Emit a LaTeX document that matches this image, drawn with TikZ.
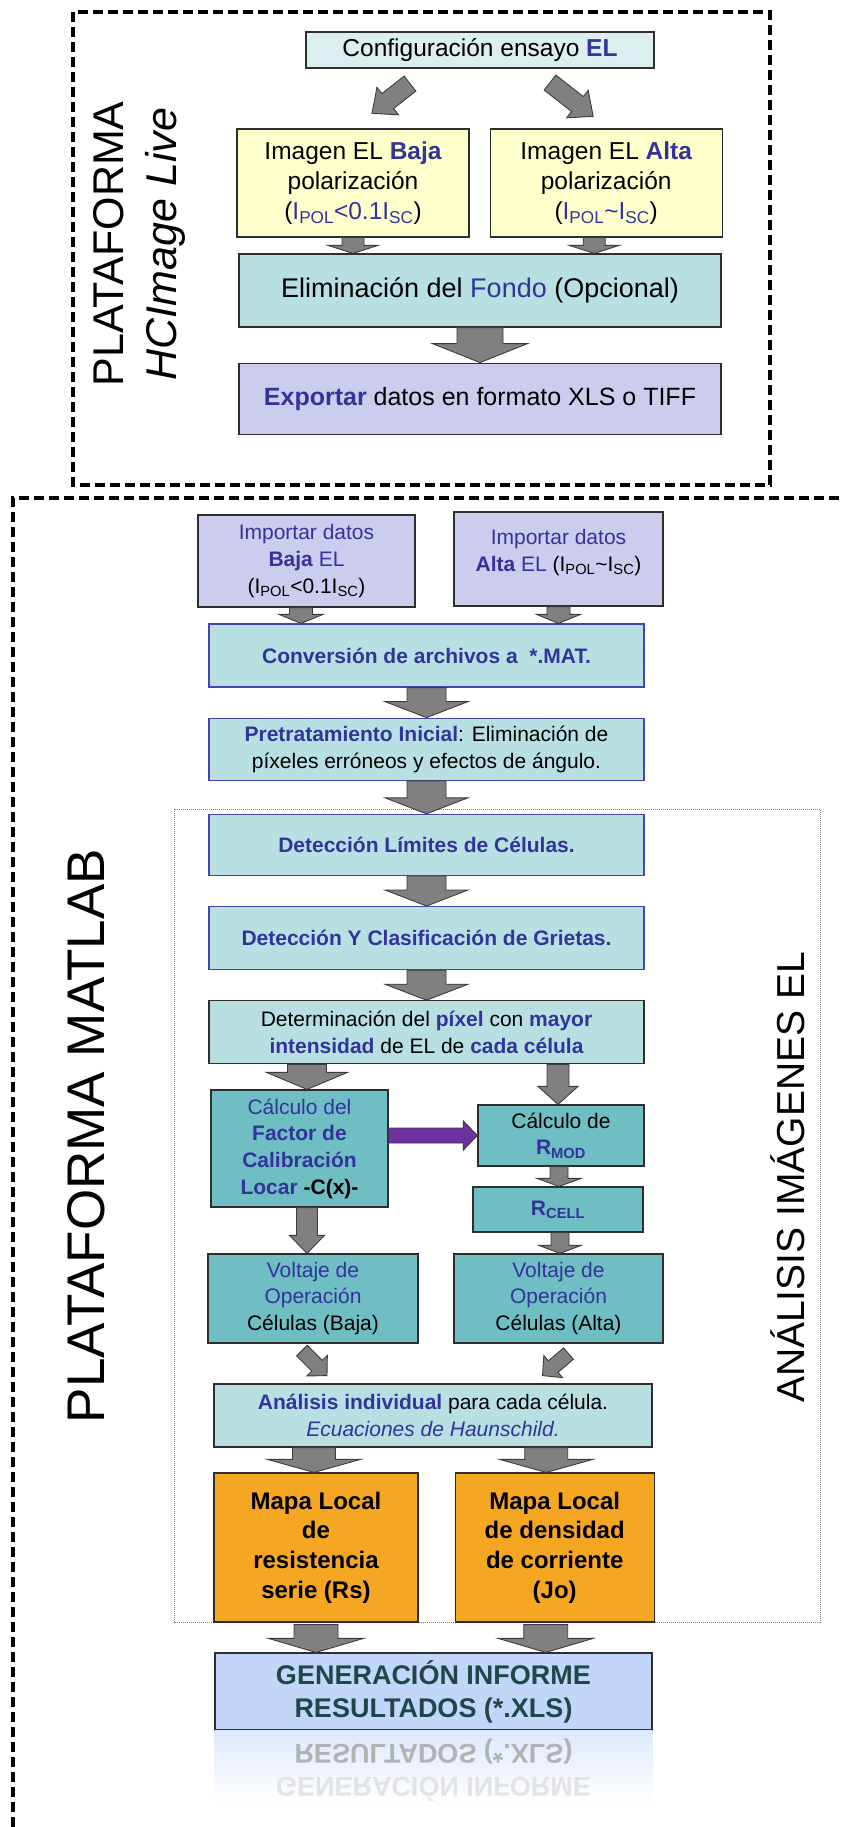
\documentclass[tikz,border=0pt]{standalone}
\usepackage{fontspec}
\setmainfont{Liberation Sans}
\usepackage{xcolor}
\usepackage{tikz}
\usetikzlibrary{
  positioning,
  calc
}
\definecolor{cfgfill}{HTML}{DCEFF0}
\definecolor{imgfill}{HTML}{FFFFCC}
\definecolor{lightteal}{HTML}{B8E0E2}
\definecolor{lavfill}{HTML}{CCCCEE}
\definecolor{darkteal}{HTML}{6EBEC4}
\definecolor{mapafill}{HTML}{F5A623}
\definecolor{infofill}{HTML}{C2D6FA}
\definecolor{txtblue}{HTML}{333399}
\definecolor{infotxt}{HTML}{1F4747}
\definecolor{boxedge}{HTML}{2E2E2E}
\definecolor{blueedge}{HTML}{4545B0}
\definecolor{arrowgray}{HTML}{808080}
\definecolor{arrowedge}{HTML}{3C3C3C}
\definecolor{purplefill}{HTML}{7030A0}
\newcommand{\bl}[1]{\textcolor{txtblue}{#1}}
\newcommand{\blb}[1]{\textcolor{txtblue}{\bfseries #1}}
\newcommand{\fsz}[2]{\fontsize{#1}{#2}\selectfont}
% block arrow: [fill]{from}{to}{shaft width}{head width}{head length}
\newcommand{\blockarrow}[6][arrowgray]{%
  \path (#2) coordinate (bastart) (#3) coordinate (baend);
  \pgfpointdiff{\pgfpointanchor{bastart}{center}}{\pgfpointanchor{baend}{center}}%
  \pgfgetlastxy{\badx}{\bady}%
  \pgfmathsetmacro{\baang}{atan2(\bady,\badx)}%
  \pgfmathsetmacro{\balen}{veclen(\badx,\bady)}%
  \draw[blockarrow, fill=#1, shift={(bastart)}, rotate=\baang]
    (0pt,{#4/2}) -- ({\balen pt-#6},{#4/2}) -- ({\balen pt-#6},{#5/2})
    -- (\balen pt,0pt) -- ({\balen pt-#6},{-#5/2}) -- ({\balen pt-#6},{-#4/2})
    -- (0pt,{-#4/2}) -- cycle;
}

\begin{document}
\begin{tikzpicture}[
  x=1pt, y=-1pt,
  box/.style={draw=boxedge, line width=1.2pt, align=center, inner sep=0pt},
  big/.style={box, font=\fsz{24.5}{30}},
  small/.style={box, font=\fsz{21}{26.7}},
  flow/.style={small, fill=lightteal, draw=blueedge, minimum width=435pt},
  calc box/.style={small, fill=darkteal},
  mapa/.style={box, fill=mapafill, font=\fsz{24}{29.7}\bfseries},
  report/.style={box, fill=infofill, text=infotxt, font=\fsz{27}{33}\bfseries},
  blockarrow/.style={draw=arrowedge, line width=0.9pt, line join=miter},
  platbox/.style={draw=black, line width=3.2pt, dash pattern=on 10pt off 5pt},
  dotbox/.style={draw=gray, line width=1pt, dash pattern=on 1pt off 1pt},
]
\useasboundingbox (0,0) rectangle (841,1827);

% platform frames
\draw[platbox] (73,12) rectangle (770,485);
\draw[platbox] (13,1827) |- (841,498);
\draw[dotbox] (174,809) rectangle (820,1622);

\node[rotate=90, align=center, font=\fsz{43}{53}] (platHC) at (139.5,244)
  {PLATAFORMA\\\itshape HCImage Live};
\node[rotate=90, font=\fsz{53}{60}] (platML) at (86,1136) {PLATAFORMA MATLAB};
\node[rotate=90, font=\fsz{39}{45}] (analisis) at (788,1177.5) {ANÁLISIS IMÁGENES EL};

% HCImage Live
\node[big, fill=cfgfill, font=\fsz{24.5}{30}, minimum width=348pt, minimum height=36pt]
  (cfg) at (480,50) {Configuración ensayo \blb{EL}};
\node[big, fill=imgfill, minimum width=232pt, minimum height=108pt] (imgBaja) at (353,183)
  {Imagen EL \blb{Baja}\\polarización\\(\bl{I\textsubscript{POL}<0.1I\textsubscript{SC}})};
\node[big, fill=imgfill, minimum width=232pt, minimum height=108pt, right=20pt of imgBaja] (imgAlta)
  {Imagen EL \blb{Alta}\\polarización\\(\bl{I\textsubscript{POL}\textasciitilde I\textsubscript{SC}})};
\node[big, fill=lightteal, font=\fsz{27}{30}, minimum width=482pt, minimum height=73pt]
  (fondo) at (480,290.5) {Eliminación del \bl{Fondo} (Opcional)};
\node[big, fill=lavfill, font=\fsz{25}{30}, minimum width=482pt, minimum height=71pt, below=35pt of fondo]
  (export) {\blb{Exportar} datos en formato XLS o TIFF};

% MATLAB
\node[small, fill=lavfill, minimum width=217pt, minimum height=92pt] (impBaja) at (306.5,561)
  {\bl{Importar datos}\\\blb{Baja} \bl{EL}\\(I\textsubscript{POL}<0.1I\textsubscript{SC})};
\node[small, fill=lavfill, minimum width=209pt, minimum height=94pt] (impAlta) at (558.5,559)
  {\bl{Importar datos}\\\blb{Alta} \bl{EL} (I\textsubscript{POL}\textasciitilde I\textsubscript{SC})\\[-10pt]\mbox{}};
\node[flow, minimum height=63pt] (conv) at (426.5,655.5) {\blb{Conversión de archivos a \ *.MAT.}};
\node[flow, minimum height=62pt, below=30pt of conv] (pret)
  {\blb{Pretratamiento Inicial}: Eliminación de\\píxeles erróneos y efectos de ángulo.};
\node[flow, minimum height=61pt, below=33pt of pret] (limites) {\blb{Detección Límites de Células.}};
\node[flow, minimum height=63pt, below=30pt of limites] (grietas) {\blb{Detección Y Clasificación de Grietas.}};
\node[flow, draw=boxedge, minimum height=63pt, below=30pt of grietas] (pixel)
  {Determinación del \blb{píxel} con \blb{mayor}\\\blb{intensidad} de EL de \blb{cada célula}};
\node[calc box, minimum width=177pt, minimum height=117pt] (factor) at (299.5,1148.5)
  {\bl{Cálculo del}\\\blb{Factor de}\\\blb{Calibración}\\\blb{Locar} \textbf{-C(x)-}};
\node[calc box, minimum width=166pt, minimum height=61pt] (rmod) at (561,1135.5)
  {Cálculo de\\\blb{R\textsubscript{MOD}}};
\node[calc box, minimum width=170pt, minimum height=45pt] (rcell) at (558,1209.5)
  {\blb{R\textsubscript{CELL}}};
\node[calc box, minimum width=210pt, minimum height=89pt] (voltBaja) at (313,1298.5)
  {\bl{Voltaje de}\\\bl{Operación}\\Células (Baja)};
\node[calc box, minimum width=209pt, minimum height=89pt] (voltAlta) at (558.5,1298.5)
  {\bl{Voltaje de}\\\bl{Operación}\\Células (Alta)};
\node[small, fill=lightteal, minimum width=438pt, minimum height=63pt] (indiv) at (433,1415.5)
  {\blb{Análisis individual} para cada célula.\\\bl{\itshape Ecuaciones de Haunschild.}};
\node[mapa, minimum width=204pt, minimum height=149pt] (mapaRs) at (316,1547.5)
  {Mapa Local\\de\\resistencia\\serie (Rs)};
\node[mapa, minimum width=199pt, minimum height=149pt, right=36pt of mapaRs] (mapaJo)
  {Mapa Local\\de densidad\\de corriente\\(Jo)};
\node[report, minimum width=437pt, minimum height=77pt] (informe) at (433.5,1691.5)
  {GENERACIÓN INFORME\\RESULTADOS (*.XLS)};

% reflection
\shade[top color=infofill!55, bottom color=white] (informe.south west) rectangle ($(informe.south east)+(0,72)$);
\node[box, draw=none, font=\fsz{27}{33}\bfseries, minimum width=437pt, minimum height=77pt,
      yscale=-1, transform shape, anchor=south] (informeRefl) at (informe.south)
  {\textcolor{gray!22}{GENERACIÓN INFORME}\\\textcolor{gray!60}{RESULTADOS (*.XLS)}};

% arrows
\blockarrow{$(cfg.south)+(-70,15)$}{$(imgBaja.north)+(19,-15)$}{19pt}{35pt}{20pt}
\blockarrow{$(cfg.south)+(70,14)$}{$(imgAlta.north)+(-13,-12)$}{19pt}{35pt}{20pt}
\blockarrow{imgBaja.south}{imgBaja.south |- fondo.north}{22pt}{50pt}{8pt}
\blockarrow{$(imgAlta.south)+(-12,0)$}{$(imgAlta.south |- fondo.north)+(-12,0)$}{22pt}{50pt}{8pt}
\blockarrow{fondo.south}{export.north}{46pt}{95pt}{19pt}
\blockarrow{$(impBaja.south)+(-5.5,0)$}{$(impBaja.south |- conv.north)+(-5.5,0)$}{23pt}{44pt}{9pt}
\blockarrow{impAlta.south}{impAlta.south |- conv.north}{23pt}{44pt}{9pt}
\blockarrow{conv.south}{pret.north}{39pt}{83pt}{16pt}
\blockarrow{pret.south}{limites.north}{39pt}{83pt}{16pt}
\blockarrow{limites.south}{grietas.north}{39pt}{83pt}{16pt}
\blockarrow{grietas.south}{pixel.north}{39pt}{83pt}{16pt}
\blockarrow{$(factor.north |- pixel.south)+(7.5,0)$}{$(factor.north)+(7.5,0)$}{39pt}{81pt}{17pt}
\blockarrow{$(rmod.north |- pixel.south)+(-3,0)$}{$(rmod.north)+(-3,0)$}{22pt}{40pt}{18pt}
\blockarrow[purplefill]{factor.east |- rmod.west}{rmod.west}{15pt}{29pt}{14pt}
\blockarrow{$(rmod.south)+(-2,0)$}{$(rmod.south |- rcell.north)+(-2,0)$}{18pt}{44pt}{8pt}
\blockarrow{$(rcell.south)+(2,0)$}{$(rcell.south |- voltAlta.north)+(2,0)$}{18pt}{42pt}{8pt}
\blockarrow{$(factor.south)+(7.5,0)$}{$(factor.south |- voltBaja.north)+(7.5,0)$}{21pt}{35pt}{18pt}
\blockarrow{$(voltBaja.south)+(-11,7)$}{$(voltBaja.south)+(14,32)$}{15pt}{29pt}{14pt}
\blockarrow{$(voltAlta.south)+(10,10)$}{$(voltAlta.south)+(-16,32)$}{15pt}{29pt}{14pt}
\blockarrow{$(mapaRs.north |- indiv.south)+(-2,0)$}{$(mapaRs.north)+(-2,0)$}{43pt}{93pt}{13pt}
\blockarrow{$(mapaJo.north |- indiv.south)+(-8.5,0)$}{$(mapaJo.north)+(-8.5,0)$}{43pt}{93pt}{13pt}
\blockarrow{$(mapaRs.south)+(0,2)$}{mapaRs.south |- informe.north}{44pt}{95pt}{14pt}
\blockarrow{$(mapaJo.south)+(-9,2)$}{$(mapaJo.south |- informe.north)+(-9,0)$}{44pt}{95pt}{14pt}
\end{tikzpicture}
\end{document}
